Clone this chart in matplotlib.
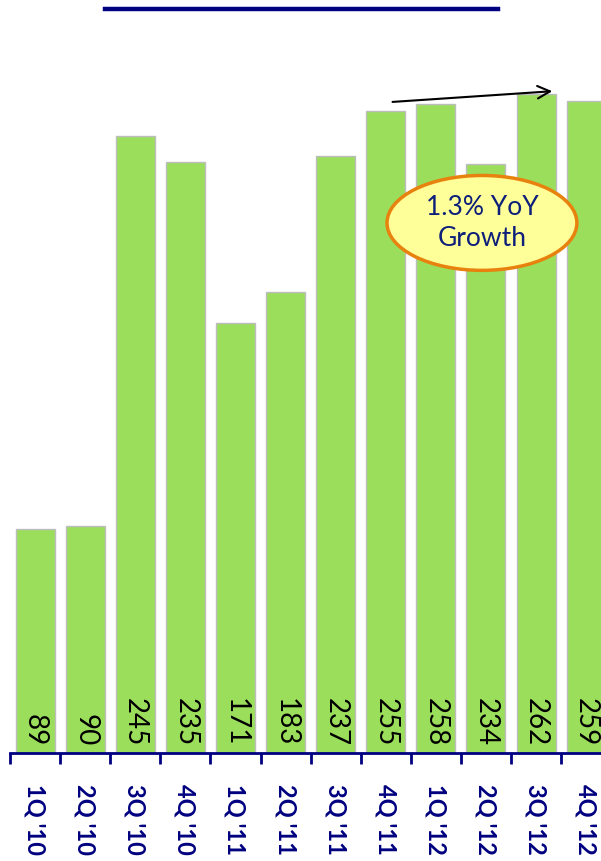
import matplotlib
matplotlib.use("Agg")
import matplotlib.pyplot as plt
from matplotlib.patches import Ellipse

categories = ["1Q '10", "2Q '10", "3Q '10", "4Q '10", "1Q '11", "2Q '11",
              "3Q '11", "4Q '11", "1Q '12", "2Q '12", "3Q '12", "4Q '12"]
values = [89, 90, 245, 235, 171, 183, 237, 255, 258, 234, 262, 259]
callout_text = "1.3% YoY\nGrowth"

plt.rcParams['font.family'] = ['Lato', 'DejaVu Sans']

NAVY = '#000080'
W, H = 601, 861
fig = plt.figure(figsize=(W / 100, H / 100), dpi=100)
ax = fig.add_axes([10 / W, (H - 753) / H, 1 - 10 / W, (753 - 60) / H])

x = list(range(len(values)))
ax.bar(x, values, width=0.78, color='#9BDE5B', edgecolor='#BDBDBD', linewidth=1.0, zorder=2)

for s in ['left', 'right', 'top']:
    ax.spines[s].set_visible(False)
ax.spines['bottom'].set_color(NAVY)
ax.spines['bottom'].set_linewidth(2)
ax.set_yticks([])

ax.set_xticks([i - 0.5 for i in range(len(values) + 1)])
ax.set_xticklabels([])
ax.tick_params(axis='x', which='major', direction='out', length=8, width=2, color=NAVY)
ax.set_xticks(x, minor=True)
ax.set_xticklabels(categories, minor=True, rotation=270, fontsize=17,
                   fontweight='bold', color=NAVY, va='top', ha='center')
ax.tick_params(axis='x', which='minor', length=0, pad=22)

ax.set_xlim(-0.5, -0.5 + 591 / 50.1)
ax.set_ylim(0, (753 - 60) / 2.517)

for xi, v in zip(x, values):
    ax.annotate(str(v), (xi, 0), xytext=(0, 5), textcoords='offset points',
                rotation=270, ha='center', va='bottom', fontsize=20, color='black', zorder=3)

# Growth arrow
ax.annotate('', xy=(10.38, 263), xytext=(7.08, 258.6),
            arrowprops=dict(arrowstyle='->,head_length=0.9,head_width=0.45', color='black', lw=1.5),
            zorder=4, annotation_clip=False)

# Callout ellipse
ell = Ellipse((8.92, 210.6), 3.79, 37.7, facecolor='#FFFF99', edgecolor='#E8820E',
              linewidth=2.5, zorder=5)
ax.add_patch(ell)
ax.text(8.92, 210.6, callout_text, ha='center', va='center', fontsize=19,
        color='#0D1F7A', zorder=6, linespacing=1.3)

# Title underline
fig.add_artist(plt.Line2D([105 / W, 498 / W], [1 - 8.5 / H, 1 - 8.5 / H],
                          color=NAVY, linewidth=3.2, transform=fig.transFigure))

fig.savefig('out.png', dpi=100)
